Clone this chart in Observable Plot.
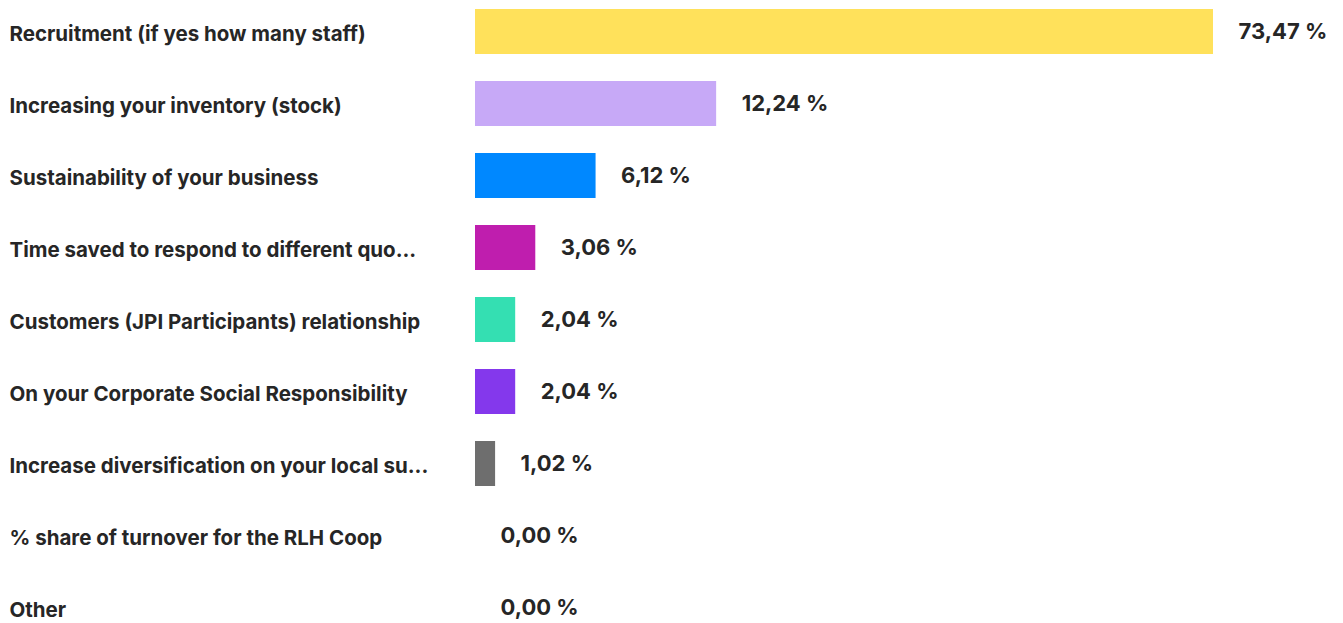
<!DOCTYPE html>
<html>
<head>
<meta charset="utf-8">
<script src="https://cdn.jsdelivr.net/npm/d3@7"></script>
<script src="https://cdn.jsdelivr.net/npm/@observablehq/plot@0.6"></script>
<style>
  html, body { margin: 0; padding: 0; background: #ffffff; }
  #chart svg { display: block; }
</style>
</head>
<body>
<div id="chart"></div>
<script>
const categories = [
  "Recruitment (if yes how many staff)",
  "Increasing your inventory (stock)",
  "Sustainability of your business",
  "Time saved to respond to different quo...",
  "Customers (JPI Participants) relationship",
  "On your Corporate Social Responsibility",
  "Increase diversification on your local su...",
  "% share of turnover for the RLH Coop",
  "Other"
];
const values = [73.47, 12.24, 6.12, 3.06, 2.04, 2.04, 1.02, 0.00, 0.00];
const colors = ["#FFE15B", "#C7A9F7", "#0088FF", "#BF1EAE", "#34DFB2", "#8438EC", "#6E6E6E", "#6E6E6E", "#6E6E6E"];

const data = categories.map((c, i) => ({category: c, value: values[i], color: colors[i]}));
const fmt = v => d3.format(".2f")(v).replace(".", ",") + " %";

const chart = Plot.plot({
  width: 1343,
  height: 623,
  marginLeft: 0,
  marginRight: 0,
  marginTop: 0,
  marginBottom: 0,
  style: {fontFamily: "Inter, 'Noto Sans', sans-serif", background: "#ffffff"},
  x: {domain: [0, 37.46], range: [475, 1213], clamp: true, axis: null},
  y: {domain: categories, range: [6, 632], paddingInner: 0.38, paddingOuter: 0, axis: null},
  marks: [
    Plot.barX(data, {x: "value", y: "category", fill: "color"}),
    Plot.text(data, {
      y: "category", text: "category", frameAnchor: "left", textAnchor: "start",
      dx: 9, dy: 2, fontSize: 20.5, fontWeight: 700, fill: "#262626"
    }),
    Plot.text(data, {
      x: "value", y: "category", text: d => fmt(d.value), textAnchor: "start",
      dx: 25, fontSize: 22, fontWeight: 700, fill: "#262626"
    })
  ]
});
document.getElementById("chart").append(chart);
</script>
</body>
</html>
